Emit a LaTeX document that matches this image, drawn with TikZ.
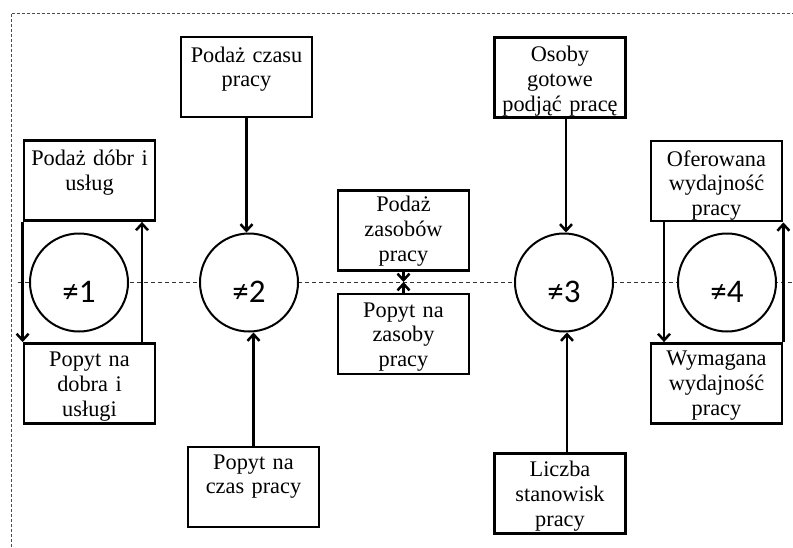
\documentclass[tikz,border=0pt]{standalone}
\usepackage{fontspec}
\setmainfont{Liberation Serif}
\newfontfamily\calfont{Carlito}
\usetikzlibrary{arrows.meta}
\begin{document}
\begin{tikzpicture}[x=1pt,y=-1pt,
  boxnode/.style={draw, line width=2.8pt, minimum width=131pt, minimum height=80pt, inner sep=0pt},
  lbl/.style={anchor=north, text width=130pt, align=center, inner sep=0pt, font=\fontsize{22.3}{24.8}\selectfont},
  circ/.style={draw, circle, line width=2pt, fill=white, minimum size=98pt, inner sep=0pt},
  clbl/.style={inner sep=0pt, font=\calfont\fontsize{33}{33}\selectfont},
  arr/.style={line width=2.5pt, -{Straight Barb[length=6.5pt,width=12pt,line width=2.5pt]}},
  midline/.style={line width=0.8pt, dash pattern=on 4pt off 3pt, black!80},
  border/.style={line width=0.8pt, dash pattern=on 3pt off 2pt, black!70}]
\useasboundingbox (0,0) rectangle (793,547);
% outer border (only top and left visible)
\draw[border] (11,547) -- (11,13) -- (793,13);
% middle dashed line
\draw[midline] (18,282) -- (793,282);

% boxes
\node[boxnode] (b1) at (89.5,180.5) {};
\node[boxnode] (b2) at (246.5,77) {};
\node[boxnode] (b3) at (403.5,230.5) {};
\node[boxnode] (b4) at (560,77.5) {};
\node[boxnode] (b5) at (716.5,181) {};
\node[boxnode] (d1) at (89.5,383.5) {};
\node[boxnode] (d2) at (253.5,487) {};
\node[boxnode] (d3) at (403.5,334) {};
\node[boxnode] (d4) at (560,493.5) {};
\node[boxnode] (d5) at (716.5,383.5) {};

% labels
\node[lbl] (lb1) at ([yshift=-9pt]b1.north) {\strut Podaż dóbr i\\usług};
\node[lbl] (lb2) at ([yshift=-9pt]b2.north) {\strut Podaż czasu\\pracy};
\node[lbl] (lb3) at ([yshift=-5pt]b3.north) {\strut Podaż\\zasobów\\pracy};
\node[lbl] (lb4) at ([yshift=-8pt]b4.north) {\strut Osoby\\gotowe\\podjąć pracę};
\node[lbl] (lb5) at ([yshift=-9pt]b5.north) {\strut Oferowana\\wydajność\\pracy};
\node[lbl] (ld1) at ([yshift=-7pt]d1.north) {\strut Popyt na\\dobra i\\usługi};
\node[lbl] (ld2) at ([yshift=-6pt]d2.north) {\strut Popyt na\\czas pracy};
\node[lbl] (ld3) at ([yshift=-7pt]d3.north) {\strut Popyt na\\zasoby\\pracy};
\node[lbl] (ld4) at ([yshift=-7pt]d4.north) {\strut Liczba\\stanowisk\\pracy};
\node[lbl] (ld5) at ([yshift=-6pt]d5.north) {\strut Wymagana\\wydajność\\pracy};

% circles
\node[circ] (c1) at (79,282.5) {};
\node[circ] (c2) at (249,282.5) {};
\node[circ] (c3) at (564,282.5) {};
\node[circ] (c4) at (727,282.5) {};
\node[clbl] (t1) at ([yshift=-9pt]c1.center) {≠1};
\node[clbl] (t2) at ([yshift=-9pt]c2.center) {≠2};
\node[clbl] (t3) at ([yshift=-9pt]c3.center) {≠3};
\node[clbl] (t4) at ([yshift=-9pt]c4.center) {≠4};

% connectors
\draw[arr] (b1.south west) -- (d1.north west);
\draw[arr] ([xshift=52.5pt]d1.north) -- ([xshift=52.5pt]b1.south);
\draw[arr] ([xshift=-52.5pt]b5.south) -- ([xshift=-52.5pt]d5.north);
\draw[arr] (d5.north east) -- (b5.south east);
\draw[arr] (b2.south) -- (b2.south |- c2.north);
\draw[arr] (d2.north) -- (d2.north |- c2.south);
\draw[arr] ([xshift=2pt]c3 |- b4.south) -- ([xshift=2pt]c3.north);
\draw[arr] ([xshift=3pt]c3 |- d4.north) -- ([xshift=3pt]c3.south);
\coordinate (m) at (403.5,282);
\draw[arr] (b3.south) -- (m);
\draw[arr] (d3.north) -- (m);
\end{tikzpicture}
\end{document}
